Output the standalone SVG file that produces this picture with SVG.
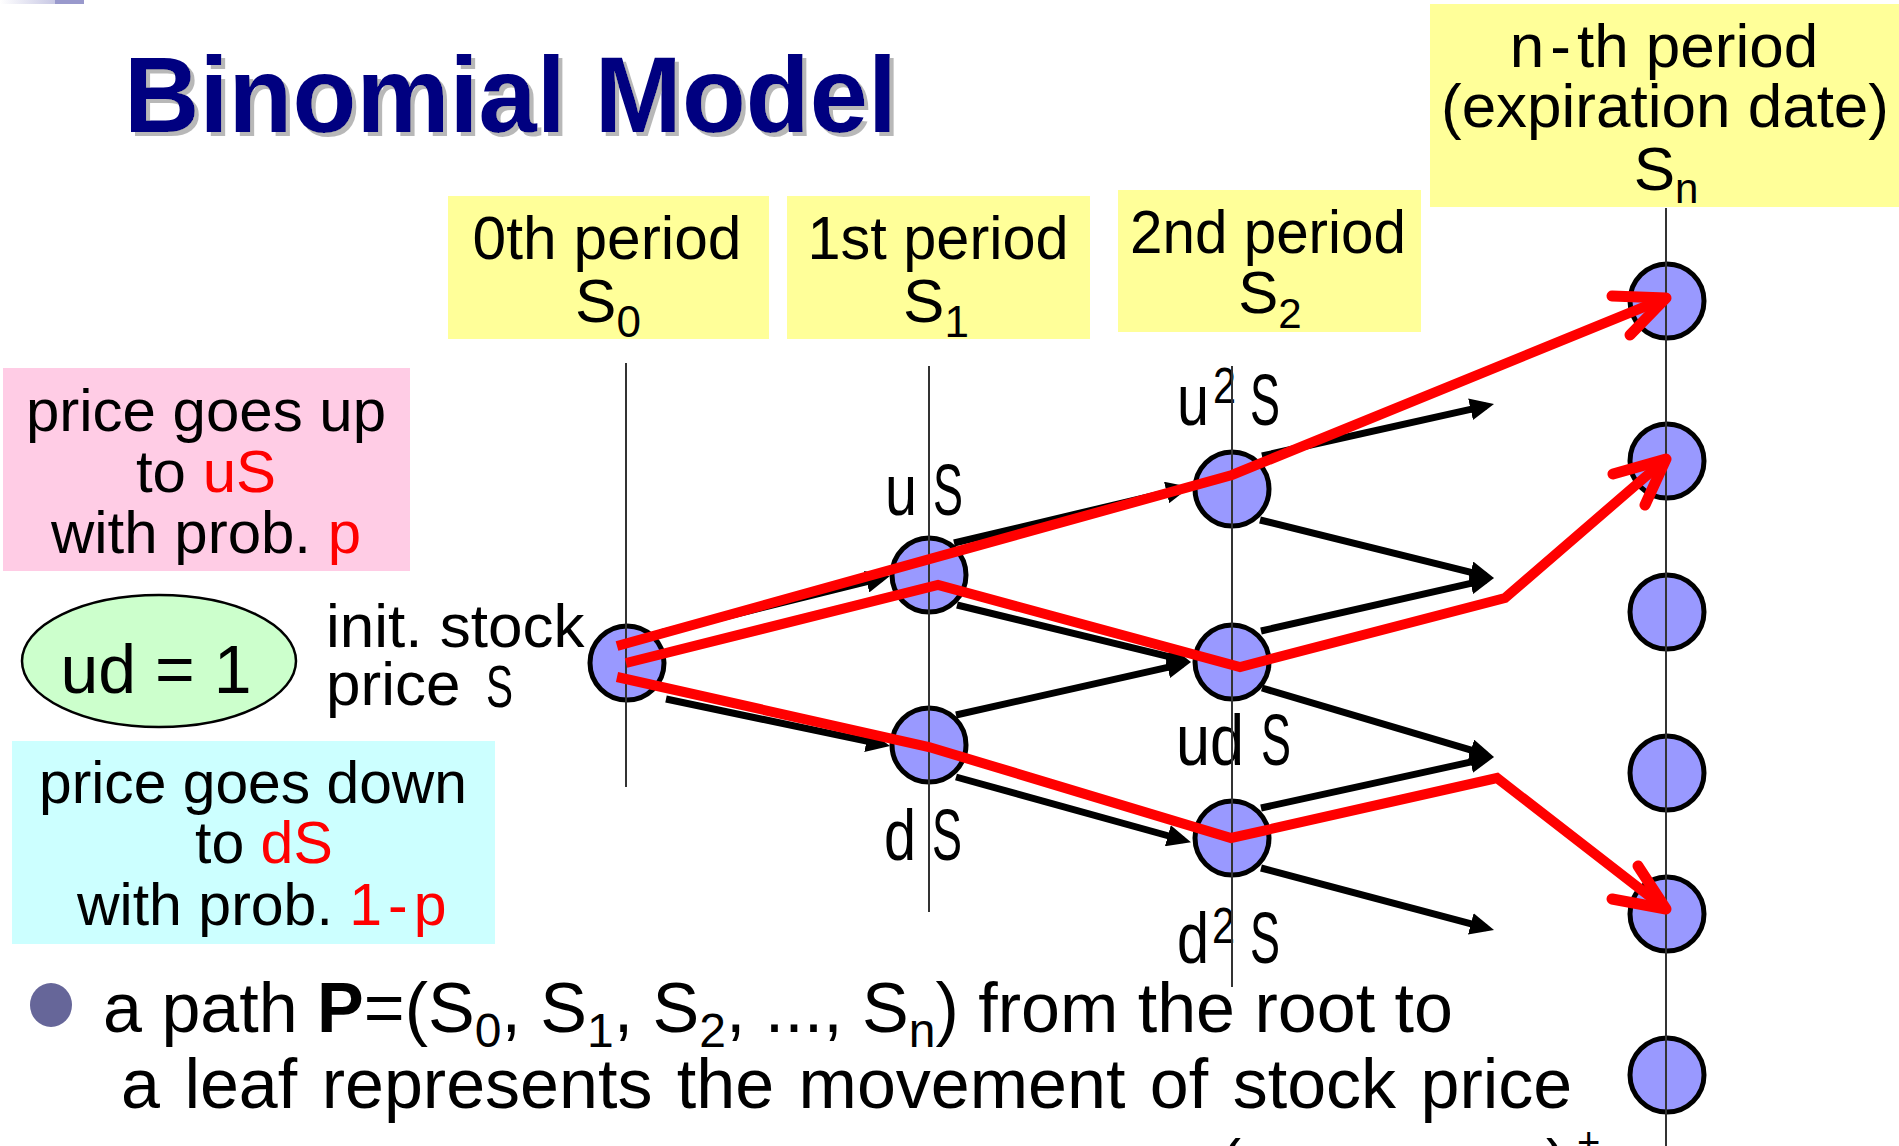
<svg xmlns="http://www.w3.org/2000/svg" width="1899" height="1146" viewBox="0 0 1899 1146">
<defs>
<style>
text{font-family:"Liberation Sans",Arial,sans-serif;fill:#000}
.box{fill:#FFFF99}
.node{fill:#9999FF;stroke:#000;stroke-width:5}
.guide{stroke:#333;stroke-width:2}
.arr{stroke:#000;stroke-width:7;fill:none;marker-end:url(#ah)}
.red{stroke:#FF0000;stroke-width:10;fill:none;stroke-linejoin:miter}
.barb{stroke:#FF0000;stroke-width:11;fill:none;stroke-linecap:round;stroke-linejoin:round}
.lbl{font-size:73px}
.sup{font-size:50px}
.r{fill:#FF0000}
</style>
<linearGradient id="tg" x1="0" y1="0" x2="1" y2="0">
<stop offset="0" stop-color="#ffffff"/>
<stop offset="1" stop-color="#C8C8E4"/>
</linearGradient>
<filter id="shadow" x="-5%" y="-20%" width="115%" height="150%">
<feOffset in="SourceAlpha" dx="4" dy="4" result="off"/>
<feFlood flood-color="#B8B8B8"/>
<feComposite in2="off" operator="in" result="sh"/>
<feMerge><feMergeNode in="sh"/><feMergeNode in="SourceGraphic"/></feMerge>
</filter>
<marker id="ah" markerUnits="userSpaceOnUse" markerWidth="24" markerHeight="22" viewBox="0 0 24 22" refX="16" refY="11" orient="auto">
<path d="M0,0 L24,11 L0,22 z" fill="#000"/>
</marker>
</defs>
<rect width="1899" height="1146" fill="#fff"/>
<rect x="0" y="0" width="55" height="4" fill="url(#tg)"/>
<rect x="55" y="0" width="29" height="4" fill="#9999CC"/>

<g id="title">
<text x="124" y="132" font-size="107" font-weight="bold" style="fill:#000080" filter="url(#shadow)" textLength="773" lengthAdjust="spacingAndGlyphs">Binomial Model</text>
</g>

<g id="period0">
<rect class="box" x="448" y="196" width="321" height="143"/>
<text x="607" y="259" font-size="62" text-anchor="middle" textLength="269" lengthAdjust="spacingAndGlyphs">0th period</text>
<text x="608" y="322" font-size="62" text-anchor="middle">S<tspan font-size="44" dy="15">0</tspan></text>
</g>
<g id="period1">
<rect class="box" x="787" y="196" width="303" height="143"/>
<text x="938" y="259" font-size="62" text-anchor="middle" textLength="261" lengthAdjust="spacingAndGlyphs">1st period</text>
<text x="936" y="322" font-size="62" text-anchor="middle">S<tspan font-size="44" dy="15">1</tspan></text>
</g>
<g id="period2">
<rect class="box" x="1118" y="190" width="303" height="142"/>
<text x="1268" y="253" font-size="62" text-anchor="middle" textLength="276" lengthAdjust="spacingAndGlyphs">2nd period</text>
<text x="1270" y="313" font-size="60" text-anchor="middle">S<tspan font-size="42" dy="15">2</tspan></text>
</g>
<g id="periodn">
<rect class="box" x="1430" y="4" width="470" height="203"/>
<text x="1664" y="67" font-size="62" text-anchor="middle">n<tspan dx="6">-</tspan><tspan dx="6">th period</tspan></text>
<text x="1665" y="127" font-size="62" text-anchor="middle">(expiration date)</text>
<text x="1666" y="190" font-size="62" text-anchor="middle">S<tspan font-size="42" dy="13">n</tspan></text>
</g>

<g id="up-note">
<rect x="3" y="368" width="407" height="203" fill="#FFCCE5"/>
<text x="206" y="431" font-size="60" text-anchor="middle">price goes up</text>
<text x="206" y="492" font-size="60" text-anchor="middle">to <tspan class="r">uS</tspan></text>
<text x="206" y="553" font-size="60" text-anchor="middle">with prob. <tspan class="r">p</tspan></text>
</g>

<g id="ud-note">
<ellipse cx="159" cy="661" rx="137" ry="66" fill="#CCFFCC" stroke="#000" stroke-width="2.5"/>
<text x="156" y="693" font-size="68" text-anchor="middle">ud = 1</text>
</g>

<g id="init-note">
<text x="326" y="647" font-size="62">init. stock</text>
<text x="326" y="705" font-size="62">price</text>
<text x="486" y="707" font-size="60" textLength="27" lengthAdjust="spacingAndGlyphs">S</text>
</g>

<g id="down-note">
<rect x="12" y="741" width="483" height="203" fill="#CCFFFF"/>
<text x="39" y="803" font-size="59" textLength="428" lengthAdjust="spacingAndGlyphs">price goes down</text>
<text x="195" y="863" font-size="59">to <tspan class="r">dS</tspan></text>
<text x="77" y="925" font-size="59">with prob. <tspan class="r">1<tspan dx="6">-</tspan><tspan dx="6">p</tspan></tspan></text>
</g>

<g id="root">
<circle class="node" cx="627" cy="663" r="37"/>
</g>
<g id="uS">
<circle class="node" cx="929" cy="575" r="37"/>
<text class="lbl" x="885" y="515" textLength="32" lengthAdjust="spacingAndGlyphs">u</text>
<text class="lbl" x="933" y="515" textLength="30" lengthAdjust="spacingAndGlyphs">S</text>
</g>
<g id="dS">
<circle class="node" cx="929" cy="745" r="37"/>
<text class="lbl" x="884" y="860" textLength="32" lengthAdjust="spacingAndGlyphs">d</text>
<text class="lbl" x="932" y="860" textLength="30" lengthAdjust="spacingAndGlyphs">S</text>
</g>
<g id="u2S">
<circle class="node" cx="1232" cy="489" r="37"/>
<text class="lbl" x="1177" y="425" textLength="32" lengthAdjust="spacingAndGlyphs">u</text>
<text class="sup" x="1213" y="403" textLength="23" lengthAdjust="spacingAndGlyphs">2</text>
<text class="lbl" x="1250" y="425" textLength="30" lengthAdjust="spacingAndGlyphs">S</text>
</g>
<g id="udS">
<circle class="node" cx="1232" cy="662" r="37"/>
<text class="lbl" x="1176" y="765" textLength="68" lengthAdjust="spacingAndGlyphs">ud</text>
<text class="lbl" x="1261" y="765" textLength="30" lengthAdjust="spacingAndGlyphs">S</text>
</g>
<g id="d2S">
<circle class="node" cx="1232" cy="838" r="37"/>
<text class="lbl" x="1177" y="963" textLength="32" lengthAdjust="spacingAndGlyphs">d</text>
<text class="sup" x="1212" y="943" textLength="23" lengthAdjust="spacingAndGlyphs">2</text>
<text class="lbl" x="1250" y="963" textLength="30" lengthAdjust="spacingAndGlyphs">S</text>
</g>
<g id="leaf1"><circle class="node" cx="1667" cy="301" r="37"/></g>
<g id="leaf2"><circle class="node" cx="1667" cy="461" r="37"/></g>
<g id="leaf3"><circle class="node" cx="1667" cy="612" r="37"/></g>
<g id="leaf4"><circle class="node" cx="1667" cy="773" r="37"/></g>
<g id="leaf5"><circle class="node" cx="1667" cy="914" r="37"/></g>
<g id="leaf6"><circle class="node" cx="1667" cy="1075" r="37"/></g>

<g id="guides">
<line class="guide" x1="626" y1="363" x2="626" y2="787"/>
<line class="guide" x1="929" y1="366" x2="929" y2="912"/>
<line class="guide" x1="1232" y1="366" x2="1232" y2="987"/>
<line class="guide" x1="1666" y1="208" x2="1666" y2="1146"/>
</g>

<g id="connectors">
<line class="arr" x1="660" y1="633" x2="882.2" y2="577.9"/>
<line class="arr" x1="666" y1="699" x2="882.2" y2="744.4"/>
<line class="arr" x1="954" y1="543" x2="1182.2" y2="488.8"/>
<line class="arr" x1="957" y1="605" x2="1183.2" y2="660.1"/>
<line class="arr" x1="956" y1="715" x2="1183.2" y2="663.8"/>
<line class="arr" x1="956" y1="777" x2="1183.3" y2="840"/>
<line class="arr" x1="1262" y1="456" x2="1486.2" y2="405.8"/>
<line class="arr" x1="1260" y1="520" x2="1486.2" y2="576.1"/>
<line class="arr" x1="1261" y1="631" x2="1486.2" y2="579.8"/>
<line class="arr" x1="1262" y1="688" x2="1486.3" y2="754.7"/>
<line class="arr" x1="1261" y1="808" x2="1486.2" y2="758.7"/>
<line class="arr" x1="1261" y1="868" x2="1486.3" y2="927.9"/>
</g>

<g id="paths">
<polyline class="red" points="617,646 1232,475 1666,298"/>
<polyline class="barb" points="1612,296 1666,298 1630,335"/>
<polyline class="red" points="626,663 938,585 1240,667 1505,598 1666,459"/>
<polyline class="barb" points="1613,474 1666,459 1645,505"/>
<polyline class="red" points="617,677 929,747 1231,838 1497,778 1666,909"/>
<polyline class="barb" points="1612,899 1666,909 1638,866"/>
</g>

<g id="bullet">
<ellipse cx="51" cy="1005" rx="21" ry="22" fill="#666699"/>
<text x="103" y="1032" font-size="70">a path <tspan font-weight="bold">P</tspan>=(S<tspan font-size="48" dy="15">0</tspan><tspan dy="-15">, S</tspan><tspan font-size="48" dy="15">1</tspan><tspan dy="-15">, S</tspan><tspan font-size="48" dy="15">2</tspan><tspan dy="-15">, ..., S</tspan><tspan font-size="48" dy="15">n</tspan><tspan dy="-15">) from the root to</tspan></text>
<text x="121" y="1108" font-size="70" word-spacing="5">a leaf represents the movement of stock price</text>
<text x="1221" y="1181" font-size="60">(</text>
<text x="1546" y="1181" font-size="60">)</text>
<text x="1577" y="1156" font-size="40">+</text>
</g>
</svg>
